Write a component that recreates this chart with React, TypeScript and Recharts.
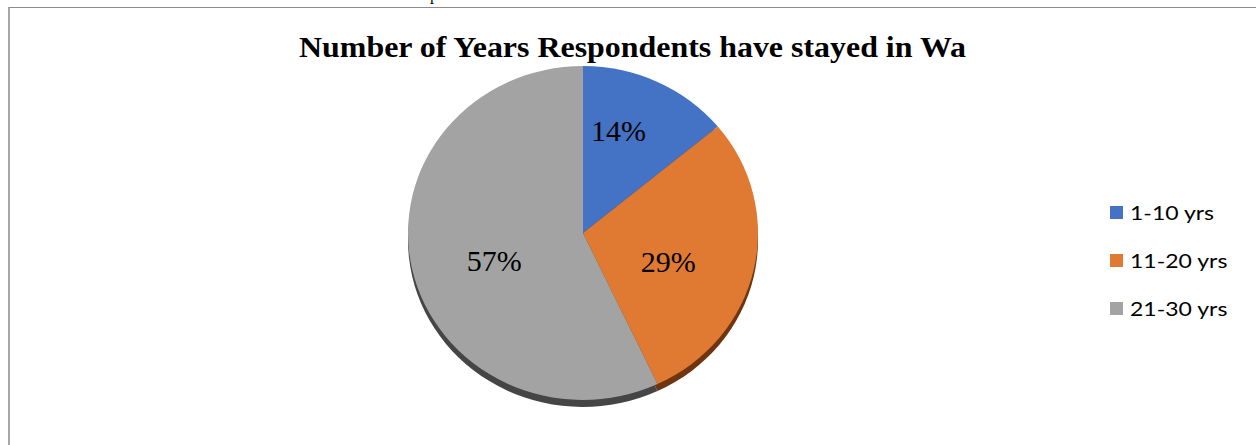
import React from "react";
import { PieChart, Pie, Cell, Legend } from "recharts";

const categories = ["1-10 yrs", "11-20 yrs", "21-30 yrs"];
const shares = [14, 29, 57];
const title = "Number of Years Respondents have stayed in Wa";

const colors = ["#4472C4", "#E07A32", "#A3A3A3"];
const shadowColors = ["#1f3a6b", "#6e3510", "#454545"];

const data = categories.map((name, i) => ({ name, value: shares[i] }));

const RAD = Math.PI / 180;
const RX_ADD = 4;
const RY_SUB = -4;

function ellipseSector(props: any) {
  const { cx, cy, outerRadius, startAngle, endAngle, fill } = props;
  const rx = outerRadius + RX_ADD;
  const ry = outerRadius + RY_SUB;
  const p = (a: number) => [cx + rx * Math.cos(a * RAD), cy - ry * Math.sin(a * RAD)];
  const [x1, y1] = p(startAngle);
  const [x2, y2] = p(endAngle);
  const span = Math.abs(startAngle - endAngle);
  const large = span > 180 ? 1 : 0;
  const sweep = startAngle > endAngle ? 1 : 0;
  const d = `M${cx},${cy} L${x1},${y1} A${rx},${ry} 0 ${large} ${sweep} ${x2},${y2} Z`;
  return <path d={d} fill={fill} stroke="none" />;
}

const labelRadius = [108, 90, 93];
const labelShift = [6, -6, 5];

function renderLabel(props: any) {
  const { cx, cy, midAngle, index, value } = props;
  const a = (midAngle + labelShift[index]) * RAD;
  const r = labelRadius[index];
  const x = cx + r * Math.cos(a);
  const y = cy - r * Math.sin(a);
  return (
    <text
      x={x}
      y={y + 10}
      textAnchor="middle"
      fontFamily="'Liberation Serif', 'Times New Roman', serif"
      fontSize={30}
      fill="#000"
    >
      {`${value}%`}
    </text>
  );
}

function LegendContent(props: any) {
  const payload = (props.payload || []).filter((p: any) => p.type !== "none");
  return (
    <div>
      {payload.map((p: any, i: number) => (
        <div
          key={i}
          style={{
            display: "flex",
            alignItems: "center",
            height: 48,
            fontFamily: "Lato, 'Open Sans', sans-serif",
            fontSize: 20,
            color: "#000",
            whiteSpace: "nowrap",
          }}
        >
          <span
            style={{
              display: "inline-block",
              width: 13,
              height: 13,
              background: p.color,
              marginRight: 7,
              flex: "none",
            }}
          />
          <span
            style={{
              display: "inline-block",
              transform: "scaleX(1.15)",
              transformOrigin: "left center",
            }}
          >
            {p.value}
          </span>
        </div>
      ))}
    </div>
  );
}

export default function App() {
  return (
    <div
      style={{
        position: "fixed",
        left: 0,
        top: 0,
        width: 1256,
        height: 445,
        background: "#fff",
        overflow: "hidden",
      }}
    >
      <div
        style={{
          position: "absolute",
          left: 8,
          top: 7,
          width: 1260,
          height: 450,
          borderTop: "1px solid #8c8c8c",
          borderLeft: "2px solid #a8a8a8",
          boxSizing: "border-box",
        }}
      />
      <svg
        width={1256}
        height={445}
        style={{ position: "absolute", left: 0, top: 0 }}
      >
        <text
          x={430}
          y={0}
          fontFamily="'Liberation Serif', serif"
          fontSize={16}
          fill="#000"
        >
          p
        </text>
        <text
          x={299}
          y={57}
          textLength={667}
          lengthAdjust="spacingAndGlyphs"
          fontFamily="'Liberation Serif', 'Times New Roman', serif"
          fontWeight="bold"
          fontSize={29}
          fill="#000"
        >
          {title}
        </text>
      </svg>
      <div style={{ position: "absolute", left: 0, top: 0 }}>
        <PieChart
          width={1256}
          height={445}
          margin={{ top: 0, right: 0, bottom: 0, left: 0 }}
        >
          <Pie
            data={data}
            dataKey="value"
            nameKey="name"
            cx={583}
            cy={240}
            outerRadius={171}
            startAngle={90}
            endAngle={-270}
            stroke="none"
            shape={ellipseSector}
            legendType="none"
            isAnimationActive={false}
          >
            {data.map((d, i) => (
              <Cell key={d.name} fill={shadowColors[i]} />
            ))}
          </Pie>
          <Pie
            data={data}
            dataKey="value"
            nameKey="name"
            cx={583}
            cy={233}
            outerRadius={171}
            startAngle={90}
            endAngle={-270}
            stroke="none"
            shape={ellipseSector}
            label={renderLabel}
            labelLine={false}
            legendType="square"
            isAnimationActive={false}
          >
            {data.map((d, i) => (
              <Cell key={d.name} fill={colors[i]} />
            ))}
          </Pie>
          <Legend
            layout="vertical"
            align="right"
            verticalAlign="top"
            content={<LegendContent />}
            wrapperStyle={{ position: "absolute", left: 1110, top: 188, width: 140 }}
          />
        </PieChart>
      </div>
    </div>
  );
}
